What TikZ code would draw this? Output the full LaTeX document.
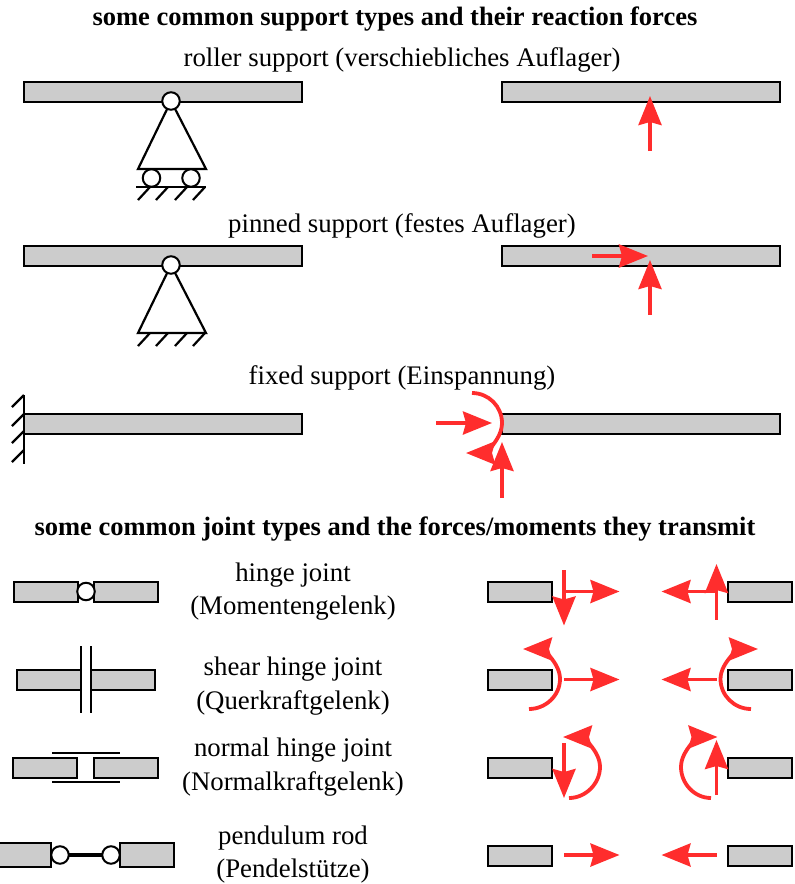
\documentclass[tikz,border=0pt]{standalone}
\usepackage{fontspec}
\setmainfont{Liberation Serif}
\usetikzlibrary{arrows.meta}
\definecolor{forcered}{RGB}{255,45,45}
\definecolor{beamgray}{RGB}{204,204,204}
\tikzset{
  txt/.style={inner sep=0pt,align=center,font=\fontsize{26.8}{33.5}\selectfont},
  ttl/.style={inner sep=0pt,font=\fontsize{26.5}{30}\selectfont\bfseries},
  beam/.style={draw=black,fill=beamgray,line width=2pt,rectangle,inner sep=0pt,outer sep=0pt},
  longbeam/.style={beam,minimum width=278pt,minimum height=20pt},
  shortbeam/.style={beam,minimum width=64pt,minimum height=20pt},
  penbeam/.style={beam,minimum width=54.5pt,minimum height=24.5pt},
  hinge/.style={circle,draw=black,fill=white,line width=2pt,minimum size=17.5pt,inner sep=0pt,outer sep=0pt},
  mech/.style={draw=black,line width=2.2pt,line join=miter},
  thin line/.style={draw=black,line width=2pt},
  force/.style={draw=forcered,line width=3.8pt,-{Stealth[length=29pt,width=23pt,inset=3pt,fill=forcered]}},
}
\begin{document}
\begin{tikzpicture}[x=1pt,y=-1pt]
\useasboundingbox (0,0) rectangle (795,884);
% headings
\node[ttl] (t1) at (395,19) {some common support types and their reaction forces};
\node[txt] (t2) at (402,60) {roller support (verschiebliches Auflager)};
\node[txt] (t3) at (402,226) {pinned support (festes Auflager)};
\node[txt] (t4) at (402,378) {fixed support (Einspannung)};
\node[ttl] (t5) at (395,529) {some common joint types and the forces/moments they transmit};
\node[txt] (l1) at (293,591.5) {hinge joint\\(Momentengelenk)};
\node[txt] (l2) at (293,686) {shear hinge joint\\(Querkraftgelenk)};
\node[txt] (l3) at (293,767) {normal hinge joint\\(Normalkraftgelenk)};
\node[txt] (l4) at (293,854.5) {pendulum rod\\(Pendelstütze)};
% roller support
\node[longbeam] (b1) at (163,92) {};
\node[longbeam] (b2) at (641,92) {};
\coordinate (r1a) at (138,169); \coordinate (r1b) at (206,169); \coordinate (r1t) at (171,101);
\draw[mech] (r1t) -- (r1a) -- (r1b) -- cycle;
\node[hinge] (h1) at (r1t) {};
\node[hinge] (w1) at (151.5,178) {};
\node[hinge] (w2) at (191,178) {};
\coordinate (g1a) at (136,187); \coordinate (g1b) at (206,187);
\draw[mech] (g1a) -- (g1b);
\foreach \x in {138,156,175,193}{\draw[mech] (\x,200) -- (\x+12,187);}
% pinned support
\node[longbeam] (b3) at (163,256) {};
\node[longbeam] (b4) at (641,256) {};
\coordinate (r2a) at (138,333); \coordinate (r2b) at (206,333); \coordinate (r2t) at (171,265);
\draw[mech] (r2t) -- (r2a) -- (r2b) -- cycle;
\node[hinge] (h2) at (r2t) {};
\foreach \x in {138,156,175,193}{\draw[mech] (\x,346) -- (\x+12,333);}
% fixed support
\node[longbeam] (b5) at (163,423.5) {};
\node[longbeam] (b6) at (641,423.5) {};
\coordinate (wa) at (24,395); \coordinate (wb) at (24,464);
\draw[mech] (wa) -- (wb);
\foreach \y in {407,426,443,462}{\draw[mech] (12,\y) -- (24,\y-12);}
% reactions, roller
\coordinate (f1s) at (650,151); \coordinate (f1e) at (650,96);
\draw[force] (f1s) -- (f1e);
% reactions, pinned
\coordinate (f2s) at (592,256); \coordinate (f2e) at (648,256);
\coordinate (f3s) at (650,315); \coordinate (f3e) at (650,260);
\draw[force] (f2s) -- (f2e);
\draw[force] (f3s) -- (f3e);
% reactions, fixed
\coordinate (f4s) at (436,423); \coordinate (f4e) at (492,423);
\coordinate (f5s) at (502,498); \coordinate (f5e) at (502,442);
\coordinate (m1s) at (472,393); \coordinate (m1m) at (502,423); \coordinate (m1e) at (466,453);
\draw[force] (f4s) -- (f4e);
\draw[force] (m1s) .. controls +(16.6,0) and +(0,-16.6) .. (m1m) .. controls +(0,18) and +(16,0) .. (m1e);
\draw[force] (f5s) -- (f5e);
% joints, left column
\node[shortbeam] (a1) at (45.5,591.5) {};
\node[shortbeam] (a2) at (125.5,591.5) {};
\node[hinge] (a3) at (86,591.5) {};
\node[shortbeam] (c1) at (49,679.5) {};
\node[shortbeam] (c2) at (122.5,679.5) {};
\coordinate (c3a) at (80.5,646); \coordinate (c3b) at (80.5,713);
\coordinate (c4a) at (90.5,646); \coordinate (c4b) at (90.5,713);
\draw[thin line] (c3a) -- (c3b);
\draw[thin line] (c4a) -- (c4b);
\node[shortbeam] (d1) at (45,767.5) {};
\node[shortbeam] (d2) at (126,767.5) {};
\coordinate (d3a) at (52,752.5); \coordinate (d3b) at (119.5,752.5);
\coordinate (d4a) at (52,781.5); \coordinate (d4b) at (119.5,781.5);
\draw[thin line] (d3a) -- (d3b);
\draw[thin line] (d4a) -- (d4b);
\node[penbeam] (e1) at (24,855) {};
\node[penbeam] (e2) at (147,855) {};
\node[hinge] (e3) at (60,855) {};
\node[hinge] (e4) at (111,855) {};
\draw[draw=black,line width=3.6pt] (e3) -- (e4);
% joints, right column
\foreach \n/\y in {1/591.5,2/679.5,3/767.5,4/855.5}{
  \node[shortbeam] (ql\n) at (520,\y) {};
  \node[shortbeam] (qr\n) at (760,\y) {};
}
% row 1
\coordinate (p1s) at (564,570); \coordinate (p1e) at (564,625.5);
\coordinate (p2s) at (564,591.5); \coordinate (p2e) at (619.5,591.5);
\coordinate (p3s) at (716.5,591.5); \coordinate (p3e) at (661.5,591.5);
\coordinate (p4s) at (716.5,619.5); \coordinate (p4e) at (716.5,564);
\draw[force] (p1s) -- (p1e);
\draw[force] (p2s) -- (p2e);
\draw[force] (p3s) -- (p3e);
\draw[force] (p4s) -- (p4e);
% row 2
\coordinate (q1s) at (529,709); \coordinate (q1m) at (560,679); \coordinate (q1e) at (523,649);
\coordinate (q2s) at (751,709); \coordinate (q2m) at (720.5,679); \coordinate (q2e) at (758,649);
\coordinate (q3s) at (564,679.5); \coordinate (q3e) at (619.5,679.5);
\coordinate (q4s) at (716.5,679.5); \coordinate (q4e) at (661.5,679.5);
\draw[force] (q1s) .. controls +(16.6,0) and +(0,16.6) .. (q1m) .. controls +(0,-18) and +(16,0) .. (q1e);
\draw[force] (q2s) .. controls +(-16.6,0) and +(0,16.6) .. (q2m) .. controls +(0,-18) and +(-16,0) .. (q2e);
\draw[force] (q3s) -- (q3e);
\draw[force] (q4s) -- (q4e);
% row 3
\coordinate (s1s) at (564,743); \coordinate (s1e) at (564,798);
\coordinate (s2s) at (569,798); \coordinate (s2m) at (600,767); \coordinate (s2e) at (563,737);
\coordinate (s3s) at (716.5,795); \coordinate (s3e) at (716.5,740);
\coordinate (s4s) at (711,798); \coordinate (s4m) at (681,767); \coordinate (s4e) at (717.5,737);
\draw[force] (s1s) -- (s1e);
\draw[force] (s2s) .. controls +(16.6,0) and +(0,16.6) .. (s2m) .. controls +(0,-18) and +(16,0) .. (s2e);
\draw[force] (s3s) -- (s3e);
\draw[force] (s4s) .. controls +(-16.6,0) and +(0,16.6) .. (s4m) .. controls +(0,-18) and +(-16,0) .. (s4e);
% row 4
\coordinate (u1s) at (564,855); \coordinate (u1e) at (619.5,855);
\coordinate (u2s) at (716.5,855); \coordinate (u2e) at (661.5,855);
\draw[force] (u1s) -- (u1e);
\draw[force] (u2s) -- (u2e);
\end{tikzpicture}
\end{document}
